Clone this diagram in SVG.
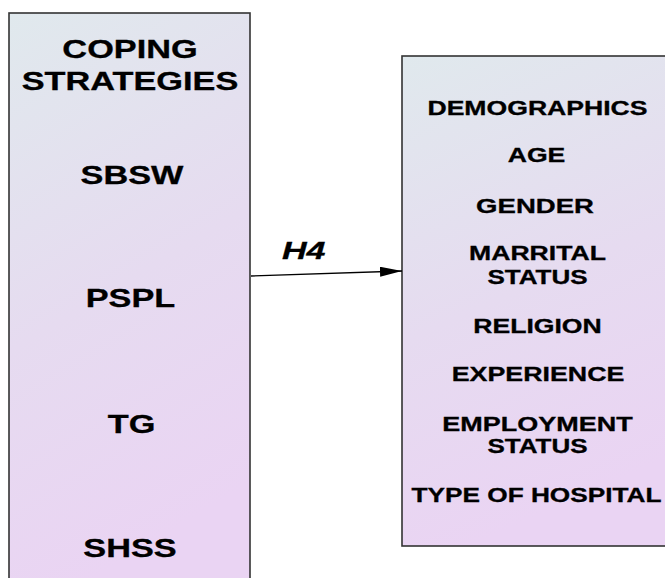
<svg xmlns="http://www.w3.org/2000/svg" width="665" height="578" viewBox="0 0 665 578">
  <defs>
    <linearGradient id="boxFill" x1="0" y1="0" x2="0.25" y2="1">
      <stop offset="0" stop-color="#e0e9ed"/>
      <stop offset="0.55" stop-color="#e6dbf0"/>
      <stop offset="1" stop-color="#ead4f3"/>
    </linearGradient>
    <marker id="arrowHead" markerUnits="userSpaceOnUse" markerWidth="24" markerHeight="12" refX="22" refY="5" orient="auto">
      <path d="M0,0 L22,5 L0,10 Z" fill="#000"/>
    </marker>
  </defs>
  <style>
    .box { fill: url(#boxFill); stroke: #333; stroke-width: 1.6; }
    .lbl { font-family: "Liberation Sans", Arial, sans-serif; font-weight: bold; fill: #000; stroke: #000; stroke-width: 0.3; text-anchor: middle; }
    .big { font-size: 25px; }
    .small { font-size: 19.5px; }
    .edge { stroke: #000; stroke-width: 1.3; fill: none; }
    .hyp { font-family: "Liberation Sans", Arial, sans-serif; font-weight: bold; font-style: italic; font-size: 23.5px; fill: #000; stroke: #000; stroke-width: 0.3; }
  </style>
  <rect width="665" height="578" fill="#ffffff"/>

  <g id="coping-strategies">
    <rect class="box" x="9" y="13" width="241" height="580"/>
    <!-- labels are drawn wide: each one is scaled horizontally about its centre -->
    <text class="lbl big" transform="translate(130 57.5) scale(1.372 1)">COPING</text>
    <text class="lbl big" transform="translate(130 89.5) scale(1.372 1)">STRATEGIES</text>
    <text class="lbl big" transform="translate(132 183.5) scale(1.372 1)">SBSW</text>
    <text class="lbl big" transform="translate(130.5 306.5) scale(1.372 1)">PSPL</text>
    <text class="lbl big" transform="translate(131.5 432.5) scale(1.372 1)">TG</text>
    <text class="lbl big" transform="translate(130 556.5) scale(1.372 1)">SHSS</text>
  </g>

  <g id="demographics">
    <rect class="box" x="402" y="56" width="275" height="490"/>
    <text class="lbl small" transform="translate(537.5 114.5) scale(1.364 1)">DEMOGRAPHICS</text>
    <text class="lbl small" transform="translate(536.5 162) scale(1.364 1)">AGE</text>
    <text class="lbl small" transform="translate(535 212.5) scale(1.413 1)">GENDER</text>
    <text class="lbl small" transform="translate(537.5 260) scale(1.364 1)">MARRITAL</text>
    <text class="lbl small" transform="translate(537.5 284) scale(1.335 1)">STATUS</text>
    <text class="lbl small" transform="translate(537.5 333) scale(1.364 1)">RELIGION</text>
    <text class="lbl small" transform="translate(538 381) scale(1.374 1)">EXPERIENCE</text>
    <text class="lbl small" transform="translate(537.5 430.5) scale(1.384 1)">EMPLOYMENT</text>
    <text class="lbl small" transform="translate(537.5 453) scale(1.335 1)">STATUS</text>
    <text class="lbl small" transform="translate(536.5 501.5) scale(1.345 1)">TYPE OF HOSPITAL</text>
  </g>

  <g id="connectors">
    <line class="edge" x1="251" y1="276" x2="402" y2="271" marker-end="url(#arrowHead)"/>
    <text class="hyp" transform="translate(282 259) scale(1.45 1)">H4</text>
  </g>
</svg>
